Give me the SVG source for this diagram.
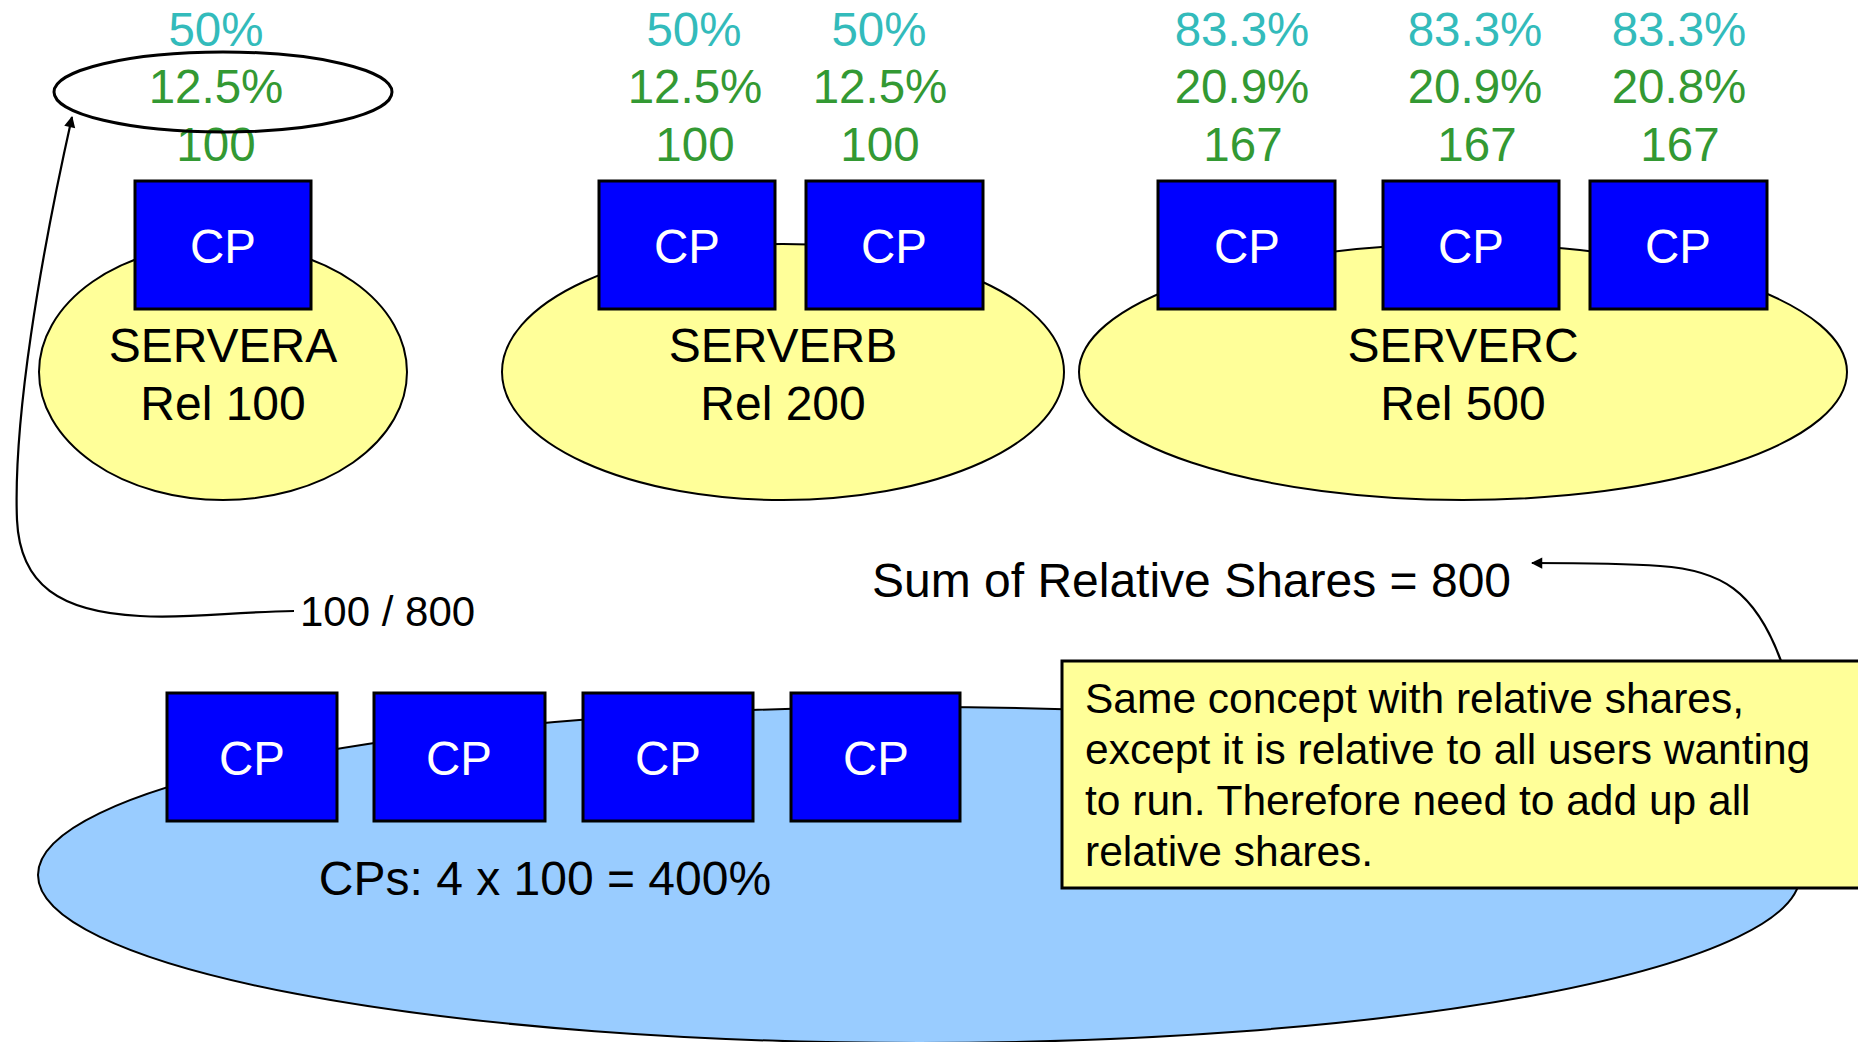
<svg xmlns="http://www.w3.org/2000/svg" width="1858" height="1042" viewBox="0 0 1858 1042">
  <style>
    text { font-family: "Liberation Sans", Arial, sans-serif; text-anchor: middle; }
    .pct { font-size: 47.5px; fill: #33bbbb; }
    .val { font-size: 47.5px; fill: #339933; }
    .cp rect { fill: #0000ff; stroke: #000; stroke-width: 3; }
    .cp text { font-size: 47.5px; fill: #ffffff; }
    .server { fill: #ffff99; stroke: #000; stroke-width: 2; }
    .lbl { font-size: 48px; fill: #000; }
    .conn { fill: none; stroke: #000; stroke-width: 2.2; }
    .note { font-size: 42.5px; fill: #000; text-anchor: start; }
  </style>
  <defs>
    <marker id="arrow" viewBox="0 0 10 10" refX="9" refY="5" markerWidth="7" markerHeight="7" markerUnits="userSpaceOnUse" orient="auto" overflow="visible">
      <path d="M0,0 L10,5 L0,10 z" fill="#000" transform="scale(1.6) translate(-3.5,-1.9)"/>
    </marker>
  </defs>

  <!-- physical CP pool -->
  <g id="pool">
    <ellipse cx="919" cy="875" rx="881" ry="168" fill="#99ccff" stroke="#000" stroke-width="2"/>
    <text class="lbl" x="545" y="895">CPs: 4 x 100 = 400%</text>
  </g>
  <g id="pool-cp1" class="cp"><rect x="167" y="693" width="170" height="128"/><text x="252" y="775">CP</text></g>
  <g id="pool-cp2" class="cp"><rect x="374" y="693" width="171" height="128"/><text x="459" y="775">CP</text></g>
  <g id="pool-cp3" class="cp"><rect x="583" y="693" width="170" height="128"/><text x="668" y="775">CP</text></g>
  <g id="pool-cp4" class="cp"><rect x="791" y="693" width="169" height="128"/><text x="876" y="775">CP</text></g>

  <!-- SERVERA -->
  <g id="servera">
    <ellipse class="server" cx="223" cy="372" rx="184" ry="128"/>
    <text class="lbl" x="223" y="362">SERVERA</text>
    <text class="lbl" x="223" y="420">Rel 100</text>
  </g>
  <g id="servera-cp1" class="cp"><rect x="135" y="181" width="176" height="128"/><text x="223" y="263">CP</text></g>
  <g id="servera-share">
    <text class="pct" x="216" y="46">50%</text>
    <text class="val" x="216" y="103">12.5%</text>
    <text class="val" x="216" y="161">100</text>
    <ellipse cx="223" cy="92" rx="169" ry="40" fill="none" stroke="#000" stroke-width="3"/>
  </g>

  <!-- SERVERB -->
  <g id="serverb">
    <ellipse class="server" cx="783" cy="372" rx="281" ry="128"/>
    <text class="lbl" x="783" y="362">SERVERB</text>
    <text class="lbl" x="783" y="420">Rel 200</text>
  </g>
  <g id="serverb-cp1" class="cp"><rect x="599" y="181" width="176" height="128"/><text x="687" y="263">CP</text></g>
  <g id="serverb-cp2" class="cp"><rect x="806" y="181" width="177" height="128"/><text x="894" y="263">CP</text></g>
  <g id="serverb-share">
    <text class="pct" x="694" y="46">50%</text>
    <text class="val" x="695" y="103">12.5%</text>
    <text class="val" x="695" y="161">100</text>
    <text class="pct" x="879" y="46">50%</text>
    <text class="val" x="880" y="103">12.5%</text>
    <text class="val" x="880" y="161">100</text>
  </g>

  <!-- SERVERC -->
  <g id="serverc">
    <ellipse class="server" cx="1463" cy="372" rx="384" ry="128"/>
    <text class="lbl" x="1463" y="362">SERVERC</text>
    <text class="lbl" x="1463" y="420">Rel 500</text>
  </g>
  <g id="serverc-cp1" class="cp"><rect x="1158" y="181" width="177" height="128"/><text x="1247" y="263">CP</text></g>
  <g id="serverc-cp2" class="cp"><rect x="1383" y="181" width="176" height="128"/><text x="1471" y="263">CP</text></g>
  <g id="serverc-cp3" class="cp"><rect x="1590" y="181" width="177" height="128"/><text x="1678" y="263">CP</text></g>
  <g id="serverc-share">
    <text class="pct" x="1242" y="46">83.3%</text>
    <text class="val" x="1242" y="103">20.9%</text>
    <text class="val" x="1243" y="161">167</text>
    <text class="pct" x="1475" y="46">83.3%</text>
    <text class="val" x="1475" y="103">20.9%</text>
    <text class="val" x="1477" y="161">167</text>
    <text class="pct" x="1679" y="46">83.3%</text>
    <text class="val" x="1679" y="103">20.8%</text>
    <text class="val" x="1680" y="161">167</text>
  </g>

  <!-- ratio label and total -->
  <g id="ratio">
    <text class="lbl" x="300" y="626" style="font-size:42px;text-anchor:start">100 / 800</text>
  </g>
  <g id="sum">
    <text class="lbl" x="872" y="597" style="text-anchor:start">Sum of Relative Shares = 800</text>
  </g>

  <!-- explanatory note -->
  <g id="note">
    <rect x="1062" y="661" width="810" height="227" fill="#ffff99" stroke="#000" stroke-width="3"/>
    <text class="note" x="1085" y="713">Same concept with relative shares,</text>
    <text class="note" x="1085" y="764">except it is relative to all users wanting</text>
    <text class="note" x="1085" y="815">to run. Therefore need to add up all</text>
    <text class="note" x="1085" y="866">relative shares.</text>
  </g>

  <!-- connectors -->
  <g id="connectors">
    <path class="conn" marker-end="url(#arrow)" d="M 294,611 C 230,612 190,619 140,616 C 60,612 20,585 17,520 C 13,420 40,260 72,117"/>
    <path class="conn" marker-end="url(#arrow)" d="M 1781,661 C 1755,590 1720,570 1660,566 C 1620,563 1580,563 1532,563"/>
  </g>
</svg>
